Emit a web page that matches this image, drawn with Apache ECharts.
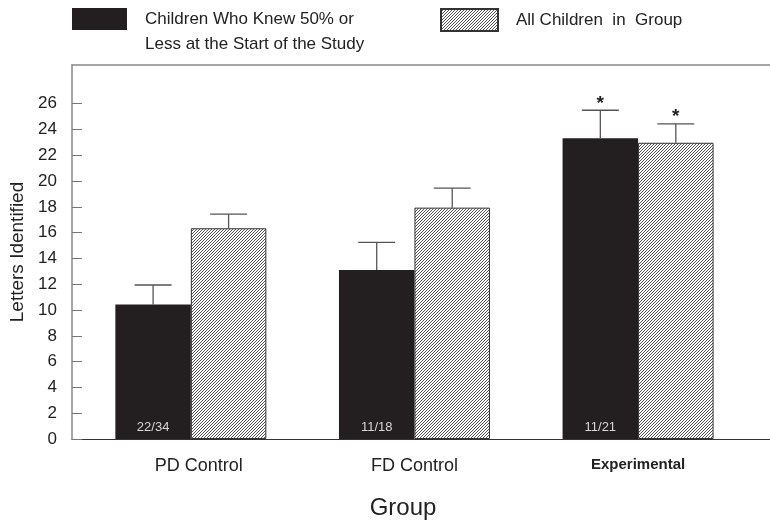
<!DOCTYPE html>
<html><head><meta charset="utf-8">
<script src="https://cdn.jsdelivr.net/npm/echarts@6/dist/echarts.min.js"></script>
<style>html,body{margin:0;padding:0;background:#fff}#c{width:770px;height:525px}</style>
</head><body><div id="c"></div>
<script>
// ---- data ----
const categories = ['PD Control', 'FD Control', 'Experimental'];
const categoryPositions = [0, 1, 2];
const seriesNames = ['Children Who Knew 50% or Less at the Start of the Study', 'All Children in Group'];
const lowKnowledgeMeans = [10.42, 13.1, 23.32];
const lowKnowledgeUpper = [11.94, 15.24, 25.49];
const allChildrenMeans = [16.34, 17.94, 22.97];
const allChildrenUpper = [17.43, 19.46, 24.44];
const lowKnowledgeCounts = ['22/34', '11/18', '11/21'];
const lowKnowledgeMarks = ['', '', '*'];
const allChildrenMarks = ['', '', '*'];
const yTicks = [0, 2, 4, 6, 8, 10, 12, 14, 16, 18, 20, 22, 24, 26];

// ---- styling ----
const FONT = 'Liberation Sans, Arial, sans-serif';
const BAR_W = 75.5;
const CAP_W = 37;
const BLACK = '#231f20';
const labelStyles = ['a', 'b', 's'];

function makeHatch() {
  const c = document.createElement('canvas');
  c.width = 3; c.height = 3;
  const g = c.getContext('2d');
  g.fillStyle = '#ffffff'; g.fillRect(0, 0, 3, 3);
  g.fillStyle = '#555555';
  g.fillRect(0, 2, 1, 1); g.fillRect(1, 1, 1, 1); g.fillRect(2, 0, 1, 1);
  return c;
}
const hatch = { image: makeHatch(), repeat: 'repeat' };

function pairs(xs, ys) { return xs.map((x, i) => [x, ys[i]]); }
function triples(xs, a, b) { return xs.map((x, i) => [x, a[i], b[i]]); }

function errRender(side, marks) {
  return function (params, api) {
    const x = api.value(0), m = api.value(1), u = api.value(2);
    const base = api.coord([x, m]);
    const top = api.coord([x, u]);
    const cx = base[0] + side * BAR_W / 2;
    const ls = { stroke: '#555', lineWidth: 1.3 };
    const children = [
      { type: 'line', shape: { x1: cx, y1: base[1], x2: cx, y2: top[1] }, style: ls },
      { type: 'line', shape: { x1: cx - CAP_W / 2, y1: top[1], x2: cx + CAP_W / 2, y2: top[1] }, style: ls }
    ];
    const mk = marks[params.dataIndex];
    if (mk) {
      children.push({ type: 'text', style: { text: mk, x: cx, y: top[1] - 7, align: 'center', verticalAlign: 'middle', fontSize: 19, fontWeight: 'bold', fontFamily: FONT, fill: '#222' } });
    }
    return { type: 'group', children };
  };
}

const chart = echarts.init(document.getElementById('c'), null, { renderer: 'canvas' });
chart.setOption({
  animation: false,
  backgroundColor: '#fff',
  textStyle: { fontFamily: FONT },
  grid: { left: 72, right: 0, top: 65, bottom: 84 },
  legend: [
    {
      data: [seriesNames[0]], left: 72, top: 8, padding: 0, itemWidth: 55, itemHeight: 22,
      selectedMode: false, icon: 'rect',
      formatter: () => 'Children Who Knew 50% or',
      textStyle: { fontSize: 17, color: '#222', fontFamily: FONT, padding: [0, 0, 0, 13] }
    },
    {
      data: [seriesNames[1]], left: 440, top: 8, padding: 0, itemWidth: 57, itemHeight: 22,
      selectedMode: false, icon: 'rect',
      formatter: () => 'All Children  in  Group',
      textStyle: { fontSize: 17, color: '#222', fontFamily: FONT, padding: [0, 0, 0, 13] }
    }
  ],
  graphic: [
    { type: 'text', left: 145, top: 36, style: { text: 'Less at the Start of the Study', fontSize: 17, fill: '#222', fontFamily: FONT } }
  ],
  xAxis: [
    {
      type: 'value', min: -0.5315, max: 2.590, position: 'bottom',
      name: 'Group', nameLocation: 'middle', nameGap: 57,
      nameTextStyle: { fontSize: 24, color: '#222', fontFamily: FONT, padding: [0, 36, 0, 0] },
      axisLine: { show: true, onZero: false, lineStyle: { color: '#333', width: 1 } },
      axisTick: { show: false },
      splitLine: { show: false },
      axisLabel: {
        customValues: categoryPositions, margin: 18, fontSize: 18, color: '#222', fontFamily: FONT,
        formatter: (v) => {
          const i = Math.round(v);
          return '{' + labelStyles[i] + '|' + categories[i] + '}';
        },
        rich: {
          a: { fontSize: 18, color: '#222', fontFamily: FONT, padding: [0, 0, 0, 16] },
          b: { fontSize: 18, color: '#222', fontFamily: FONT },
          s: { fontSize: 15, fontWeight: 'bold', color: '#222', fontFamily: FONT }
        }
      }
    },
    {
      type: 'value', min: -0.5315, max: 2.590, position: 'top',
      axisLine: { show: true, onZero: false, lineStyle: { color: '#888', width: 1.5 } },
      axisTick: { show: false }, axisLabel: { show: false }, splitLine: { show: false }
    }
  ],
  yAxis: {
    type: 'value', min: 0, max: 29,
    name: 'Letters Identified', nameLocation: 'middle', nameGap: 45,
    nameTextStyle: { fontSize: 19, color: '#222', fontFamily: FONT },
    axisLine: { show: true, onZero: false, lineStyle: { color: '#888', width: 1.5 } },
    axisTick: { show: true, inside: true, length: 10, customValues: yTicks, lineStyle: { color: '#777', width: 1 } },
    axisLabel: { customValues: yTicks, margin: 15, fontSize: 17, color: '#222', fontFamily: FONT },
    splitLine: { show: false }
  },
  series: [
    {
      name: seriesNames[0], type: 'bar', xAxisIndex: 0, barWidth: BAR_W, barGap: '0%',
      data: pairs(categoryPositions, lowKnowledgeMeans),
      itemStyle: { color: BLACK },
      label: {
        show: true, position: 'insideBottom', distance: 5, fontSize: 13, color: '#d6d6d6', fontFamily: FONT,
        formatter: (p) => lowKnowledgeCounts[p.dataIndex]
      }
    },
    {
      name: seriesNames[1], type: 'bar', xAxisIndex: 0, barWidth: BAR_W, barGap: '0%',
      data: pairs(categoryPositions, allChildrenMeans),
      itemStyle: { color: hatch, borderColor: '#333', borderWidth: 1 }
    },
    {
      type: 'custom', xAxisIndex: 0, z: 5, silent: true,
      data: triples(categoryPositions, lowKnowledgeMeans, lowKnowledgeUpper),
      renderItem: errRender(-1, lowKnowledgeMarks)
    },
    {
      type: 'custom', xAxisIndex: 0, z: 5, silent: true,
      data: triples(categoryPositions, allChildrenMeans, allChildrenUpper),
      renderItem: errRender(1, allChildrenMarks)
    }
  ]
});
</script>
</body></html>
